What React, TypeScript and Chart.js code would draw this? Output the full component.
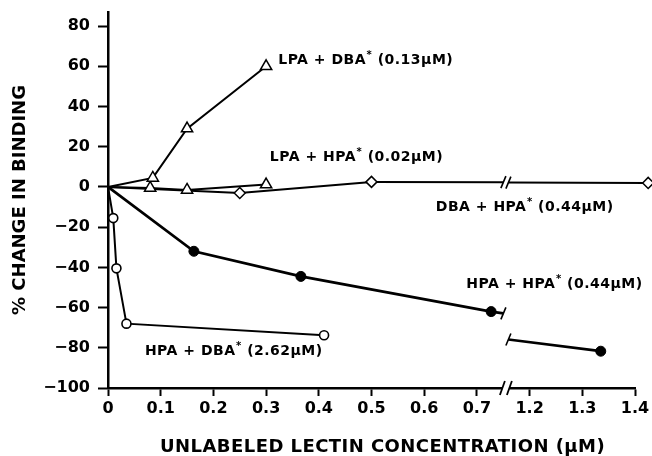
import React, { useEffect, useRef } from 'react';
import { Chart, registerables } from 'chart.js';

Chart.register(...registerables);

// ---- axis break (real µM values) ----
const BREAK_LO = 0.755;
const BREAK_HI = 1.155;
const SHIFT = BREAK_HI - BREAK_LO;

// ---- data (real concentration, % change) ----
const lpaDbaX = [0, 0.085, 0.15, 0.3];
const lpaDbaY = [0, 4.5, 29, 60];

const lpaHpaX = [0, 0.08, 0.15, 0.3];
const lpaHpaY = [0, -0.5, -1.5, 1.2];

const dbaHpaX = [0, 0.25, 0.5, 1.425];
const dbaHpaY = [0, -3, 2.5, 2];

const hpaHpaX = [0, 0.163, 0.366, 0.727, 1.335];
const hpaHpaY = [0, -32, -44.5, -62, -81.7];

const hpaDbaX = [0, 0.01, 0.016, 0.035, 0.41];
const hpaDbaY = [0, -15.5, -40.5, -68, -73.8];

// ---- text ----
const xTitle = 'UNLABELED LECTIN CONCENTRATION (μM)';
const yTitle = '% CHANGE IN BINDING';

// labels: main text, superscript, tail; anchor in data space (real x)
const labelMain = ['LPA + DBA', 'LPA + HPA', 'DBA + HPA', 'HPA + HPA', 'HPA + DBA'];
const labelTail = [' (0.13μM)', ' (0.02μM)', ' (0.44μM)', ' (0.44μM)', ' (2.62μM)'];
const labelAnchorX = [0.323, 0.307, 0.622, 0.68, 0.07];
const labelAnchorY = [63, 14.9, -10.4, -48.5, -81.7];

const toDisplay = (x: number) => (x >= BREAK_HI ? x - SHIFT : x);
const toReal = (d: number) => (d > BREAK_LO + 1e-9 ? d + SHIFT : d);

const pts = (xs: number[], ys: number[]) => xs.map((x, i) => ({ x: toDisplay(x), y: ys[i] }));

const FONT = "'DejaVu Sans', sans-serif";

const brokenSeries = [
  { xs: dbaHpaX, ys: dbaHpaY, width: 2 },
  { xs: hpaHpaX, ys: hpaHpaY, width: 2.7 },
];

function interp(xs: number[], ys: number[], i: number, x: number) {
  const t = (x - xs[i]) / (xs[i + 1] - xs[i]);
  return ys[i] + t * (ys[i + 1] - ys[i]);
}

const breakPlugin = {
  id: 'breaks',
  beforeDatasetsDraw(chart: any) {
    const xs = chart.scales.x;
    const ys = chart.scales.y;
    const ctx = chart.ctx;
    const bx = xs.getPixelForValue(toDisplay(BREAK_LO));
    ctx.save();
    ctx.strokeStyle = '#000';
    ctx.lineCap = 'butt';
    // axis break
    const by = chart.chartArea.bottom;
    ctx.fillStyle = '#fff';
    ctx.fillRect(bx - 3.5, by - 3, 7, 6);
    ctx.lineWidth = 1.8;
    [bx - 3.5, bx + 3.5].forEach((cx) => {
      ctx.beginPath();
      ctx.moveTo(cx - 2.5, by + 7);
      ctx.lineTo(cx + 2.5, by - 7);
      ctx.stroke();
    });
    // broken series lines
    brokenSeries.forEach((s) => {
      const i = s.xs.findIndex((x, k) => x < BREAK_LO && s.xs[k + 1] > BREAK_HI);
      if (i < 0) return;
      const yL = interp(s.xs, s.ys, i, BREAK_LO);
      const yR = interp(s.xs, s.ys, i, BREAK_HI);
      const gap = 2.5;
      const a = { x: xs.getPixelForValue(toDisplay(s.xs[i])), y: ys.getPixelForValue(s.ys[i]) };
      const b = { x: bx - gap, y: ys.getPixelForValue(yL) };
      const c = { x: bx + gap, y: ys.getPixelForValue(yR) };
      const d = { x: xs.getPixelForValue(toDisplay(s.xs[i + 1])), y: ys.getPixelForValue(s.ys[i + 1]) };
      ctx.lineWidth = s.width;
      ctx.beginPath();
      ctx.moveTo(a.x, a.y);
      ctx.lineTo(b.x, b.y);
      ctx.moveTo(c.x, c.y);
      ctx.lineTo(d.x, d.y);
      ctx.stroke();
      ctx.lineWidth = 1.6;
      [b, c].forEach((p) => {
        ctx.beginPath();
        ctx.moveTo(p.x - 2.5, p.y + 6);
        ctx.lineTo(p.x + 2.5, p.y - 6);
        ctx.stroke();
      });
    });
    ctx.restore();
  },
};

const labelPlugin = {
  id: 'seriesLabels',
  afterDatasetsDraw(chart: any) {
    const xs = chart.scales.x;
    const ys = chart.scales.y;
    const ctx = chart.ctx;
    const area = chart.chartArea;
    // points that lie past the right end of the axis (drawn unclipped)
    chart.data.datasets.forEach((_d: any, di: number) => {
      const meta = chart.getDatasetMeta(di);
      meta.data.forEach((el: any) => {
        if (el.x > area.right + 3) el.draw(ctx);
      });
    });
    ctx.save();
    ctx.fillStyle = '#000';
    ctx.textBaseline = 'middle';
    ctx.textAlign = 'left';
    (ctx as any).letterSpacing = '0.5px';
    labelMain.forEach((m, i) => {
      let x = xs.getPixelForValue(toDisplay(labelAnchorX[i]));
      const y = ys.getPixelForValue(labelAnchorY[i]);
      ctx.font = `bold 14px ${FONT}`;
      ctx.fillText(m, x, y);
      x += ctx.measureText(m).width + 0.5;
      ctx.font = `bold 10px ${FONT}`;
      ctx.fillText('*', x, y - 5);
      x += ctx.measureText('*').width;
      ctx.font = `bold 14px ${FONT}`;
      ctx.fillText(labelTail[i], x, y);
    });
    // x-axis title
    ctx.font = `bold 18px ${FONT}`;
    (ctx as any).letterSpacing = '0.45px';
    ctx.textAlign = 'center';
    ctx.fillText(xTitle, (xs.left + xs.right) / 2 + 11, 447);
    ctx.restore();
  },
};

const hideFirst = (r: number) => (c: any) => (c.dataIndex === 0 ? 0 : r);
const crossesBreak = (c: any) => toReal(c.p0.parsed.x) < BREAK_LO && toReal(c.p1.parsed.x) > BREAK_HI;

export default function App() {
  const ref = useRef<HTMLCanvasElement | null>(null);
  useEffect(() => {
    if (!ref.current) return;
    const common = {
      borderColor: '#000',
      pointBorderColor: '#000',
      showLine: true,
      fill: false,
      tension: 0,
      clip: false as any,
      segment: { borderColor: (c: any) => (crossesBreak(c) ? 'rgba(0,0,0,0)' : undefined) },
    };
    const chart = new Chart(ref.current, {
      type: 'scatter',
      data: {
        datasets: [
          { ...common, label: 'LPA + DBA*', data: pts(lpaDbaX, lpaDbaY), borderWidth: 2, pointStyle: 'triangle', pointRadius: hideFirst(6.5), pointBackgroundColor: '#fff', pointBorderWidth: 1.5 },
          { ...common, label: 'LPA + HPA*', data: pts(lpaHpaX, lpaHpaY), borderWidth: 2, pointStyle: 'triangle', pointRadius: hideFirst(6.5), pointBackgroundColor: '#fff', pointBorderWidth: 1.5 },
          { ...common, label: 'DBA + HPA*', data: pts(dbaHpaX, dbaHpaY), borderWidth: 2, pointStyle: 'rectRot', pointRadius: hideFirst(5.5), pointBackgroundColor: '#fff', pointBorderWidth: 1.5 },
          { ...common, label: 'HPA + HPA*', data: pts(hpaHpaX, hpaHpaY), borderWidth: 2.7, pointStyle: 'circle', pointRadius: hideFirst(5), pointBackgroundColor: '#000', pointBorderWidth: 1 },
          { ...common, label: 'HPA + DBA*', data: pts(hpaDbaX, hpaDbaY), borderWidth: 2, pointStyle: 'circle', pointRadius: hideFirst(4.5), pointBackgroundColor: '#fff', pointBorderWidth: 1.6 },
        ] as any,
      },
      options: {
        responsive: false,
        animation: false,
        events: [],
        layout: { padding: { left: 0, right: 17, top: 12, bottom: 0 } },
        plugins: { legend: { display: false }, tooltip: { enabled: false } },
        scales: {
          x: {
            type: 'linear',
            min: 0,
            max: 1.0,
            afterFit: (s: any) => { s.height = 68; s.paddingLeft = 0; s.paddingRight = 0; },
            border: { display: true, color: '#000', width: 2.5 },
            grid: { display: true, drawOnChartArea: false, drawTicks: true, tickLength: 8, tickColor: '#000', tickWidth: 2 },
            ticks: {
              stepSize: 0.1,
              includeBounds: false,
              autoSkip: false,
              maxRotation: 0,
              color: '#000',
              padding: 3,
              font: { family: FONT, size: 16, weight: 'bold' },
              callback: (v: any) => {
                const r = toReal(Number(v));
                return Math.abs(r) < 1e-9 ? '0' : r.toFixed(1);
              },
            },
            title: { display: false, text: xTitle },
          },
          y: {
            type: 'linear',
            min: -100,
            max: 87,
            afterFit: (s: any) => { s.width = 108; s.paddingTop = 0; s.paddingBottom = 0; },
            border: { display: true, color: '#000', width: 2.5 },
            grid: { display: true, drawOnChartArea: false, drawTicks: true, tickLength: 10, tickColor: '#000', tickWidth: 2 },
            ticks: {
              stepSize: 20,
              includeBounds: false,
              color: '#000',
              padding: 8,
              font: { family: FONT, size: 16, weight: 'bold' },
              callback: (v: any) => (Number(v) < 0 ? '\u2212' + Math.abs(Number(v)) : String(v)),
            },
            title: { display: true, text: yTitle, color: '#000', font: { family: FONT, size: 18, weight: 'bold' }, padding: { top: 10, bottom: 0 } },
          },
        },
      } as any,
      plugins: [breakPlugin, labelPlugin],
    });
    return () => chart.destroy();
  }, []);
  return (
    <div style={{ position: 'absolute', left: 0, top: 0, width: 652, height: 456, background: '#fff' }}>
      <canvas ref={ref} width={652} height={456} />
    </div>
  );
}
